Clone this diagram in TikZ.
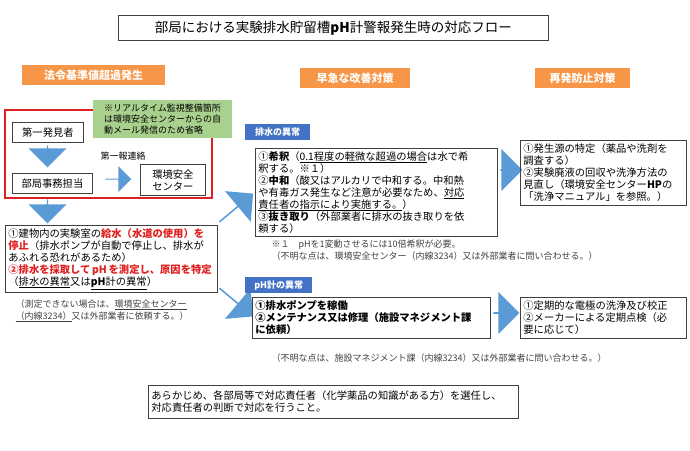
\documentclass[tikz,border=0pt]{standalone}
\usepackage{fontspec}
\setmainfont{Noto Sans CJK JP}
\usetikzlibrary{shapes.arrows}
\definecolor{org}{HTML}{F79646}
\definecolor{blu}{HTML}{5B9BD5}
\definecolor{bluh}{HTML}{4472C4}
\definecolor{grn}{HTML}{A9D18E}
\definecolor{gr}{HTML}{404040}
\definecolor{rd}{HTML}{E02020}
\newcommand{\R}[1]{\textcolor{rd}{\textbf{#1}}}
\tikzset{
 box/.style={draw=gr,line width=0.8pt,align=left,anchor=north west,inner sep=3pt,font=\fontsize{10.3}{12}\selectfont},
 hdr/.style={fill=org,text=white,font=\fontsize{11}{13}\selectfont\bfseries,anchor=north west,minimum height=20pt},
 lbl/.style={fill=bluh,text=white,font=\fontsize{9}{11}\selectfont\bfseries,anchor=north west,minimum height=16pt,inner sep=3pt},
 note/.style={anchor=north west,align=left,font=\fontsize{9}{12}\selectfont,text=gr},
 barr/.style={single arrow,fill=blu,draw=none,single arrow head extend=5pt,inner sep=0pt}
}
\begin{document}
\begin{tikzpicture}[x=1pt,y=-1pt]
\useasboundingbox (0,0) rectangle (690,450);
\node[draw=gr,line width=0.8pt,minimum width=430pt,minimum height=25pt,anchor=north west,font=\fontsize{13.5}{15}\selectfont] (title) at (118,15) {部局における実験排水貯留槽\textbf{pH}計警報発生時の対応フロー};
\node[hdr,minimum width=143pt] (h1) at (22,65) {法令基準値超過発生};
\node[hdr,minimum width=110pt] (h2) at (300,68) {早急な改善対策};
\node[hdr,minimum width=95pt] (h3) at (535,68) {再発防止対策};
% red frame
\draw[rd,line width=1.5pt] (5,110) rectangle (212,198);
\node[fill=grn,anchor=north west,align=left,minimum width=139pt,minimum height=38pt,font=\fontsize{9}{11}\selectfont,inner sep=3pt] (g) at (93,100) {※リアルタイム監視整備箇所\\は環境安全センターからの自\\動メール発信のため省略};
\node[box,minimum width=71pt,minimum height=20pt,align=center,anchor=north west] (a1) at (12,122) {第一発見者};
\node[box,minimum width=80pt,minimum height=20pt,align=center] (a2) at (12,173) {部局事務担当};
\node[box,minimum width=65pt,minimum height=31pt,align=center] (a3) at (140,164) {環境安全\\センター};
\node[note,text=black] (t1) at (97,148) {第一報連絡};
\node[barr,shape border rotate=270,minimum width=38pt,minimum height=22pt] (d1) at (47.5,156) {};
\node[barr,minimum width=26pt,minimum height=26pt] (r1) at (118,179) {};
\node[barr,shape border rotate=270,minimum width=38pt,minimum height=24pt] (d2) at (47.5,211) {};
\node[box,text width=206pt,minimum height=65pt] (b1) at (5,225) {①建物内の実験室の\R{給水（水道の使用）を}\\\R{停止}（排水ポンプが自動で停止し、排水が\\あふれる恐れがあるため）\\\R{②排水を採取して\,pH\,を測定し、原因を特定}\\（\underline{排水の異常}又は\underline{\textbf{pH}計の異常}）};
\node[note] (n1) at (12,296) {（測定できない場合は、\underline{環境安全センター}\\\underline{（内線3234）}又は外部業者に依頼する。）};
% diagonal arrows
\node[barr,rotate=40,minimum width=40pt,minimum height=44pt] (u1) at (236,208) {};
\node[barr,rotate=-40,minimum width=40pt,minimum height=44pt] (u2) at (236,302) {};
\node[lbl,minimum width=65pt] (l1) at (245,124) {排水の異常};
\node[lbl,minimum width=67pt] (l2) at (245,277) {pH計の異常};
\node[box,text width=236pt,minimum height=85pt] (b2) at (255,148) {①\textbf{希釈}（\underline{0.1程度の軽微な超過の場合}は水で希\\釈する。※１）\\②\textbf{中和}（酸又はアルカリで中和する。中和熱\\や有毒ガス発生など注意が必要なため、\underline{対応}\\\underline{責任者の指示により実施する。}）\\③\textbf{抜き取り}（外部業者に排水の抜き取りを依\\頼する）};
\node[note] (n2) at (268,236) {※１\quad pHを1変動させるには10倍希釈が必要。\\（不明な点は、環境安全センター（内線3234）又は外部業者に問い合わせる。）};
\node[box,text width=232pt,minimum height=41pt,font=\fontsize{10.3}{12}\selectfont\bfseries] (b3) at (252,297) {①排水ポンプを稼働\\②メンテナンス又は修理（施設マネジメント課\\に依頼）};
\node[note] (n3) at (268,350) {（不明な点は、施設マネジメント課（内線3234）又は外部業者に問い合わせる。）};
\node[barr,minimum width=42pt,minimum height=22pt] (r2) at (511,170) {};
\node[barr,minimum width=42pt,minimum height=26pt] (r3) at (506,313) {};
\node[box,text width=160pt,minimum height=65pt] (c1) at (520,140) {①発生源の特定（薬品や洗剤を\\調査する）\\②実験廃液の回収や洗浄方法の\\見直し（環境安全センター\textbf{HP}の\\「洗浄マニュアル」を参照。）};
\node[box,text width=160pt,minimum height=41pt] (c2) at (520,297) {①定期的な電極の洗浄及び校正\\②メーカーによる定期点検（必\\要に応じて）};
\node[box,text width=364pt,minimum height=33pt] (bt) at (148,385) {あらかじめ、各部局等で対応責任者（化学薬品の知識がある方）を選任し、\\対応責任者の判断で対応を行うこと。};
\end{tikzpicture}
\end{document}
